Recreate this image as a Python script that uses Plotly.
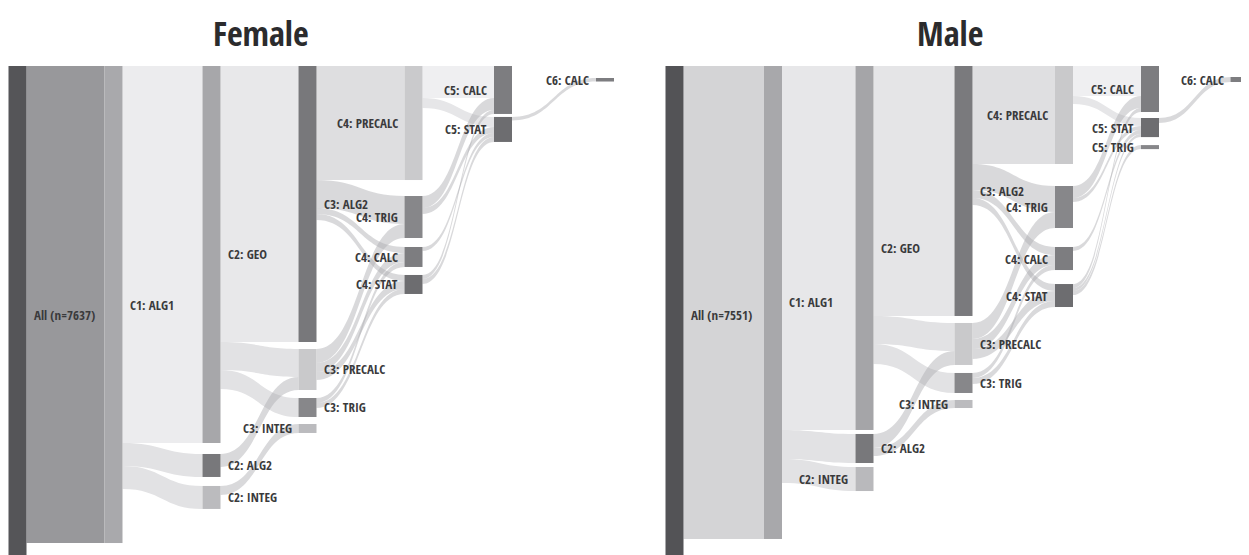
import plotly.graph_objects as go

# ---------------- data ----------------
f_labels = ["All (n=7637)", "C1: ALG1", "C2: GEO", "C2: ALG2", "C2: INTEG",
            "C3: ALG2", "C3: PRECALC", "C3: TRIG", "C3: INTEG",
            "C4: PRECALC", "C4: TRIG", "C4: CALC", "C4: STAT",
            "C5: CALC", "C5: STAT", "C6: CALC", ""]
f_total = 7637
f_source = [0, 0, 1, 1, 1, 2, 2, 2, 3, 4, 5, 5, 5, 5, 6, 6, 6, 7, 7, 9, 9, 10, 10, 11, 12, 12, 14]
f_target = [1, 16, 2, 3, 4, 5, 6, 7, 6, 8, 9, 10, 11, 12, 10, 11, 12, 11, 12, 13, 14, 13, 14, 14, 13, 14, 15]
f_value = [7330, 307, 5793, 353, 353, 4241, 430, 292, 200, 138, 1752, 430, 92, 92, 215, 138, 123, 77, 77,
           492, 154, 184, 92, 61, 61, 77, 54]

m_labels = ["All (n=7551)", "C1: ALG1", "C2: GEO", "C2: ALG2", "C2: INTEG",
            "C3: ALG2", "C3: PRECALC", "C3: TRIG", "C3: INTEG",
            "C4: PRECALC", "C4: TRIG", "C4: CALC", "C4: STAT",
            "C5: CALC", "C5: STAT", "C5: TRIG", "C6: CALC", ""]
m_total = 7551
m_source = [0, 0, 1, 1, 1, 2, 2, 2, 3, 3, 5, 5, 5, 5, 6, 6, 6, 7, 7, 9, 9, 10, 10, 11, 12, 12, 12, 14]
m_target = [1, 17, 2, 3, 4, 5, 6, 7, 6, 8, 9, 10, 11, 12, 10, 11, 12, 11, 12, 13, 14, 13, 14, 14, 13, 14, 15, 16]
m_value = [7186, 365, 5530, 441, 365, 3798, 425, 304, 213, 122, 1489, 395, 122, 106, 243, 152, 152, 76, 91,
           456, 122, 182, 61, 61, 61, 46, 61, 76]

titles = ["Female", "Male"]

# ---------------- style / layout ----------------
W, HP = 1249, 555
PAGE = 8          # default page body margin: page px = figure px + PAGE
TOP = 58          # plot top margin (figure px)
NODE_TOP = 66     # page px where node columns start
PH = HP - TOP
THICK = 18
FONT = "Noto Sans Condensed, Open Sans Condensed, Roboto Condensed, Roboto, sans-serif"
CROSS = "rgba(170,170,176,0.45)"
HIDE = "rgba(0,0,0,0)"

f_node_colors = ["#555558", "#a9a9ac", "#a7a7aa", "#78787b", "#bbbbbe",
                 "#78787b", "#c9c9cb", "#87878a", "#bbbbbe",
                 "#cacacc", "#87878a", "#7d7d80", "#6d6d70",
                 "#7d7d80", "#6d6d70", "#7d7d80", HIDE]
f_link_colors = ["#98989b", HIDE, "#ececee", "#e2e2e4", "#e2e2e4", "#e8e8ea", "#e2e2e4", "#e2e2e4",
                 CROSS, CROSS, "#dedee0", CROSS, CROSS, CROSS, CROSS, CROSS, CROSS, CROSS, CROSS,
                 "#efeff1", "#e6e6e8", CROSS, CROSS, CROSS, CROSS, CROSS, CROSS]
m_node_colors = ["#535356", "#a8a8ab", "#a5a5a8", "#78787b", "#b9b9bc",
                 "#7a7a7d", "#c9c9cb", "#87878a", "#bbbbbe",
                 "#c9c9cb", "#87878a", "#7d7d80", "#6d6d70",
                 "#7d7d80", "#6d6d70", "#87878a", "#7d7d80", HIDE]
m_link_colors = ["#d4d4d6", HIDE, "#e7e7e9", "#e2e2e4", "#e2e2e4", "#e5e5e7", "#e2e2e4", "#e2e2e4",
                 CROSS, CROSS, "#dfdfe1", CROSS, CROSS, CROSS, CROSS, CROSS, CROSS, CROSS, CROSS,
                 "#efeff1", "#e6e6e8", CROSS, CROSS, CROSS, CROSS, CROSS, CROSS, CROSS]

# column centers (page px), column stacking: (top offset px, node order, gaps px)
f_xc = [17.5, 113.5, 211.5, 307.5, 413.5, 503, 605]
f_cols = [(0, [0], []), (0, [1, 16], [0]), (0, [2, 3, 4], [11, 9]), (0, [5, 6, 7, 8], [7, 8, 7]),
          (0, [9, 10, 11, 12], [16, 9, 8]), (0, [13, 14], [3]), (12, [15], [])]
f_left = [0, 0, 0, 0, 0, 0, 0, 0, 1, 1, 1, 1, 1, 1, 1, 1, 0]
f_dom = (0, 620)          # figure px

m_xc = [674.5, 773, 864.5, 963.5, 1064, 1150, 1239.5]
m_cols = [(0, [0], []), (0, [1, 17], [0]), (0, [2, 3, 4], [4, 4]), (0, [5, 6, 7, 8], [7, 8, 7]),
          (0, [9, 10, 11, 12], [22, 19, 14]), (0, [13, 14, 15], [6, 8]), (11, [16], [])]
m_left = [0, 0, 0, 0, 1, 0, 0, 0, 1, 1, 1, 1, 1, 1, 1, 1, 1, 0]
m_dom = (622, 1249)

fig = go.Figure()
annotations = []


def px_x(page_x):
    return (page_x - PAGE) / W


def px_y(page_y):
    return 1 - (page_y - PAGE - TOP) / PH


def build(labels, total, src, tgt, val, ncol, lcol, xc, cols, left, dom):
    n = len(labels)
    inflow = [0] * n
    outflow = [0] * n
    for s, t, v in zip(src, tgt, val):
        outflow[s] += v
        inflow[t] += v
    nodeval = [max(a, b) for a, b in zip(inflow, outflow)]
    k = PH / total
    nx = [0.0] * n
    ny = [0.0] * n
    dw = dom[1] - dom[0]
    for ci, (off, order, gaps) in enumerate(cols):
        y = NODE_TOP + off            # page px of node top
        for j, idx in enumerate(order):
            h = nodeval[idx] * k
            cy = y + h / 2
            ny[idx] = (cy - PAGE - TOP) / PH
            nx[idx] = (xc[ci] - PAGE - dom[0]) / dw
            if labels[idx]:
                if left[idx]:
                    ax, anchor = xc[ci] - THICK / 2 - 5, "right"
                else:
                    ax, anchor = xc[ci] + THICK / 2 + 5, "left"
                annotations.append(dict(
                    x=px_x(ax), y=px_y(cy), xref="paper", yref="paper",
                    text=labels[idx], showarrow=False, xanchor=anchor, yanchor="middle",
                    font=dict(family=FONT, size=13, color="#3a3a3c", weight="bold")))
            y += h + (gaps[j] if j < len(gaps) else 0)
    fig.add_trace(go.Sankey(
        arrangement="fixed",
        domain=dict(x=[dom[0] / W, dom[1] / W], y=[0, 1]),
        node=dict(pad=2, thickness=THICK, line=dict(width=0), label=[""] * n,
                  color=ncol, x=nx, y=ny),
        link=dict(source=src, target=tgt, value=val, color=lcol),
        hoverinfo="none",
    ))


build(f_labels, f_total, f_source, f_target, f_value, f_node_colors, f_link_colors, f_xc, f_cols, f_left, f_dom)
build(m_labels, m_total, m_source, m_target, m_value, m_node_colors, m_link_colors, m_xc, m_cols, m_left, m_dom)

for t, cx in zip(titles, [261, 950]):
    annotations.append(dict(x=px_x(cx), y=px_y(33), xref="paper", yref="paper", text=t,
                            showarrow=False, xanchor="center", yanchor="middle", borderpad=0,
                            font=dict(family=FONT, size=34, color="#2b2b2d", weight="bold")))

fig.update_layout(width=W, height=HP, margin=dict(l=0, r=0, t=TOP, b=0),
                  paper_bgcolor="white", plot_bgcolor="white",
                  font=dict(family=FONT), annotations=annotations)
fig.write_html("out.html")
